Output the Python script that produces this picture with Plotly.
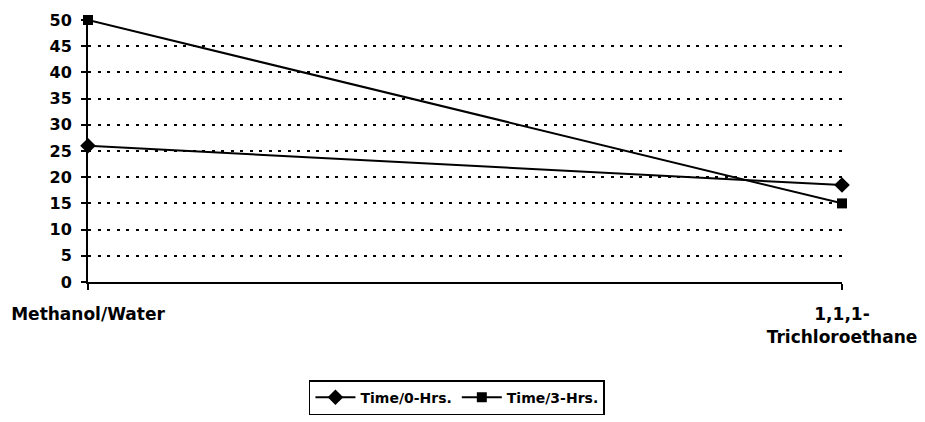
import plotly.graph_objects as go

categories = ["Methanol/Water", "1,1,1-<br>Trichloroethane"]
series_names = ["Time/0-Hrs.", "Time/3-Hrs."]
time0_values = [26, 18.5]
time3_values = [50, 15]
y_ticks = [0, 5, 10, 15, 20, 25, 30, 35, 40, 45, 50]

font_family = "DejaVu Sans, Liberation Sans, Arial, sans-serif"
x_pos = list(range(len(categories)))

fig = go.Figure()
fig.add_trace(go.Scatter(
    x=x_pos, y=time0_values, name=series_names[0], mode="lines+markers",
    line=dict(color="black", width=2),
    marker=dict(symbol="diamond", size=12, color="black"),
    cliponaxis=False,
))
fig.add_trace(go.Scatter(
    x=x_pos, y=time3_values, name=series_names[1], mode="lines+markers",
    line=dict(color="black", width=2),
    marker=dict(symbol="square", size=10, color="black"),
    cliponaxis=False,
))

fig.update_layout(
    width=925, height=422,
    margin=dict(l=88, r=83, t=20, b=140, autoexpand=False),
    paper_bgcolor="white", plot_bgcolor="white",
    font=dict(family=font_family, size=14, color="black", weight="bold"),
    showlegend=True,
    legend=dict(
        orientation="h", xref="container", yref="container",
        x=0.494, xanchor="center", y=0.099, yanchor="top",
        bordercolor="black", borderwidth=1.5,
        font=dict(family=font_family, size=14, color="black", weight="bold"),
        itemwidth=40, tracegroupgap=0,
    ),
    xaxis=dict(
        range=[0, 1], tickvals=x_pos, ticktext=categories,
        automargin=False,
        showgrid=False, zeroline=False,
        showline=True, linecolor="black", linewidth=2,
        ticks="outside", ticklen=6, tickwidth=2, tickcolor="black",
        ticklabelstandoff=10,
        tickfont=dict(family=font_family, size=17, weight="bold"),
    ),
    yaxis=dict(
        range=[0, 50], tickvals=y_ticks,
        automargin=False,
        showgrid=True, gridcolor="black", gridwidth=2, griddash="3px,6.5px",
        zeroline=False,
        showline=True, linecolor="black", linewidth=2,
        ticks="outside", ticklen=5, tickwidth=2, tickcolor="black",
        ticklabelstandoff=6,
        tickfont=dict(family=font_family, size=16, weight="bold"),
    ),
)

fig.write_html("out.html")
